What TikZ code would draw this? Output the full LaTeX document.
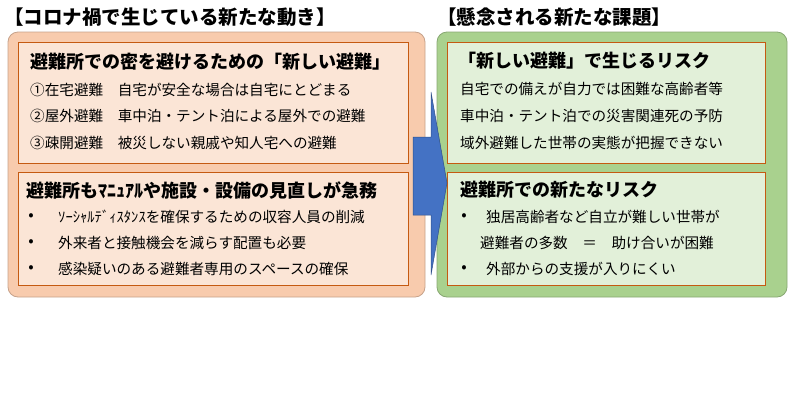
\documentclass[tikz,border=0pt]{standalone}
\usepackage{fontspec}
\setmainfont{Noto Sans CJK JP}
\usetikzlibrary{positioning}
\definecolor{peach}{HTML}{F8CBAD}
\definecolor{peachlt}{HTML}{FBE5D6}
\definecolor{rust}{HTML}{C55A11}
\definecolor{leaf}{HTML}{A9D18E}
\definecolor{leaflt}{HTML}{E2F0D9}
\definecolor{arrowblue}{HTML}{4472C4}
\tikzset{
  outer/.style = {rounded corners=10pt, draw=#1!80!black, line width=0.8pt},
  inner/.style = {draw=rust, line width=1pt},
  head/.style = {anchor=west, font=\fontsize{18}{18}\selectfont\bfseries, inner sep=0pt},
  line/.style = {anchor=west, font=\fontsize{14.6}{14.6}\selectfont, inner sep=0pt},
  dot/.style = {anchor=center, font=\fontsize{16}{16}\selectfont, inner sep=0pt},
  caption/.style = {anchor=west, font=\fontsize{19.5}{19.5}\selectfont\bfseries, inner sep=0pt}
}
\begin{document}
\begin{tikzpicture}[x=1pt, y=-1pt]
		\useasboundingbox (0,0) rectangle (800,400);
		% outer panels
		\fill[peach, outer=peach] (8,32) rectangle (425,297);
		\fill[leaf, outer=leaf] (437,32) rectangle (787,297);
		\filldraw[peachlt, inner] (18,42) rectangle (408,163);
		\filldraw[peachlt, inner] (18,172) rectangle (408,285);
		\filldraw[leaflt, inner] (447,42) rectangle (765,163);
		\filldraw[leaflt, inner] (447,172) rectangle (765,285);
		% block arrow
		\filldraw[fill=arrowblue, draw=arrowblue!70!black, line width=0.5pt]
			(413,137) -- (431,137) -- (431,92) -- (447,183) -- (431,275) -- (431,215) -- (413,215) -- cycle;
		% captions
		\node (LeftCaption) [caption] at (4,17) {【コロナ禍で生じている新たな動き】};
		\node (RightCaption) [caption] at (437,17) {【懸念される新たな課題】};
		% left upper
		\node (ShelterHead) [head] at (30,62) {避難所での密を避けるための「新しい避難」};
		\node (ShelterA) [line] at (30,90) {①在宅避難\quad 自宅が安全な場合は自宅にとどまる};
		\node (ShelterB) [line] at (30,116) {②屋外避難\quad 車中泊・テント泊による屋外での避難};
		\node (ShelterC) [line] at (30,143) {③疎開避難\quad 被災しない親戚や知人宅への避難};
		% left lower
		\node (ReviewHead) [head] at (26,191) {避難所もﾏﾆｭｱﾙや施設・設備の見直しが急務};
		\foreach \y/\txt [count=\i] in {217/ｿｰｼｬﾙﾃﾞｨｽﾀﾝｽを確保するための収容人員の削減, 243/外来者と接触機会を減らす配置も必要, 269/感染疑いのある避難者専用のスペースの確保}
			\node (Review\i) [line] at (58,\y) {\txt};
		\foreach \y [count=\i] in {217,243,269}
			\node (ReviewDot\i) [dot] at (31,\y) {•};
		% right upper
		\node (RiskHead) [head] at (458,61) {「新しい避難」で生じるリスク};
		\node (RiskA) [line] at (460,89) {自宅での備えが自力では困難な高齢者等};
		\node (RiskB) [line] at (460,116) {車中泊・テント泊での災害関連死の予防};
		\node (RiskC) [line] at (460,143) {域外避難した世帯の実態が把握できない};
		% right lower
		\node (NewHead) [head] at (460,190) {避難所での新たなリスク};
		\node (NewDot1) [dot] at (464,217) {•};
		\node (NewA) [line] at (486,217) {独居高齢者など自立が難しい世帯が};
		\node (NewB) [line] at (480,243) {避難者の多数\quad ＝\quad 助け合いが困難};
		\node (NewDot2) [dot] at (464,269) {•};
		\node (NewC) [line] at (486,269) {外部からの支援が入りにくい};
\end{tikzpicture}
\end{document}
